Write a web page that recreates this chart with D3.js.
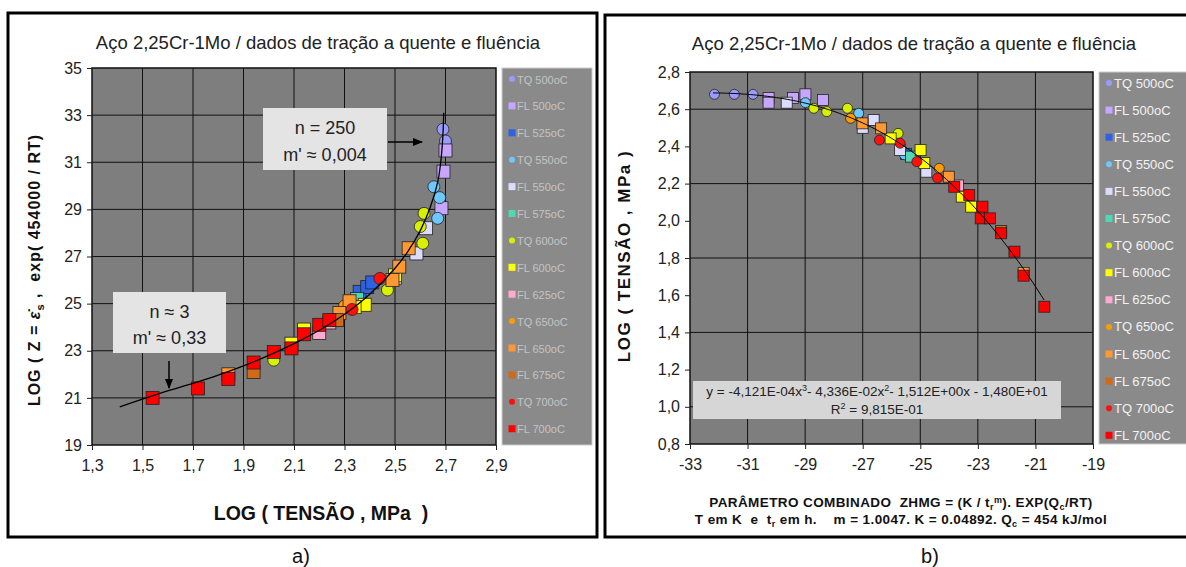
<!DOCTYPE html>
<html>
<head>
<meta charset='utf-8'>
<title>Aço 2,25Cr-1Mo</title>
<script src='https://cdn.jsdelivr.net/npm/d3@7/dist/d3.min.js'></script>
<style>
  body {margin:0; background:#fff;}
  svg text {font-family:'Liberation Sans', Arial, sans-serif; white-space:pre;}
  .tick text {font-size:16px; fill:#222;}
  .tick line {stroke:#222;}
  .domain {display:none;}
</style>
</head>
<body>
<svg id='chart' width='1186' height='567'></svg>
<script>
// series names, colours, shapes (shared by both panels)
var series = ['TQ 500oC','FL 500oC','FL 525oC','TQ 550oC','FL 550oC','FL 575oC','TQ 600oC',
              'FL 600oC','FL 625oC','TQ 650oC','FL 650oC','FL 675oC','TQ 700oC','FL 700oC'];
var colors = ['#9a9aff','#c6a6ff','#2f62e0','#6cc8ff','#dcdcff','#4fd8b4','#d8f000',
              '#ffff00','#ffaad0','#ff9c00','#ff9830','#d06a18','#ff1010','#ff0000'];
var shapes = ['c','s','s','c','s','s','c','s','s','c','s','s','c','s'];

// a) log(stress) vs log(Z), one array per series
var zData = [
  [[2.690,32.4],[2.700,31.9]],
  [[2.692,30.6],[2.684,29.05],[2.700,31.5]],
  [[2.36,25.5],[2.39,25.7],[2.41,25.9]],
  [[2.654,29.96],[2.669,28.62],[2.677,29.5]],
  [[2.623,28.2],[2.585,27.13],[2.50,26.1]],
  [[2.35,25.2]],
  [[2.615,28.83],[2.60,28.27],[2.61,27.56],[2.47,25.58],[2.02,22.6]],
  [[2.38,24.95],[2.34,24.85],[2.14,23.9],[2.09,23.3],[2.50,26.2]],
  [[2.20,23.75],[2.24,24.2]],
  [[2.30,24.9]],
  [[2.554,27.35],[2.517,26.57],[2.32,25.1],[2.28,24.6],[1.84,22.0],[2.49,26.0]],
  [[2.27,24.3],[1.94,22.1]],
  [[2.44,26.07],[2.33,24.75]],
  [[1.54,21.0],[1.72,21.4],[1.84,21.8],[1.94,22.5],[2.02,22.95],[2.09,23.1],[2.14,23.7],[2.20,24.1],[2.24,24.3]]
];
// fitted curve of panel a)
var zCurve = [[1.41,20.62],[1.50,20.95],[1.60,21.3],[1.70,21.62],[1.80,21.97],[1.90,22.36],[2.00,22.8],
              [2.10,23.3],[2.20,23.87],[2.30,24.55],[2.40,25.4],[2.50,26.5],[2.55,27.2],[2.60,28.1],
              [2.64,29.1],[2.67,30.2],[2.683,31.2],[2.690,32.2],[2.693,33.1]];

// b) ZHMG parameter vs log(stress)
var hData = [
  [[-32.15,2.68],[-31.46,2.68],[-30.81,2.68]],
  [[-30.27,2.66],[-29.42,2.66],[-28.99,2.68],[-28.38,2.65],[-30.27,2.635]],
  [[-25.5,2.36]],
  [[-28.99,2.635],[-27.14,2.578],[-25.55,2.355]],
  [[-29.64,2.635],[-27.0,2.50],[-26.62,2.542],[-24.79,2.264],[-25.7,2.38]],
  [[-25.32,2.345]],
  [[-28.7,2.605],[-28.25,2.587],[-27.53,2.605],[-25.77,2.47]],
  [[-26.03,2.443],[-24.99,2.38],[-24.86,2.31],[-23.56,2.13],[-23.23,2.076]],
  [[-23.69,2.19]],
  [[-27.42,2.551],[-24.34,2.282]],
  [[-27.01,2.524],[-26.36,2.497],[-24.01,2.237],[-21.41,1.72]],
  [[-22.19,1.945]],
  [[-26.42,2.434],[-25.7,2.417],[-25.12,2.318],[-24.4,2.23]],
  [[-23.82,2.183],[-23.3,2.139],[-22.84,2.076],[-22.9,2.013],[-22.58,2.013],[-22.19,1.933],
   [-21.73,1.834],[-21.41,1.705],[-20.69,1.538]]
];
// polynomial trendline shown in panel b): y = a x^3 + b x^2 + c x + d
var hCoef = [-4.121e-4, -4.336e-2, -1.512, -14.80];
var hFitRange = [-32.2, -20.7];

var zTicksX = [1.3,1.5,1.7,1.9,2.1,2.3,2.5,2.7,2.9], zTicksY = [19,21,23,25,27,29,31,33,35];
var hTicksX = [-33,-31,-29,-27,-25,-23,-21,-19], hTicksY = [0.8,1.0,1.2,1.4,1.6,1.8,2.0,2.2,2.4,2.6,2.8];
var zGridX = [1.5,1.7,1.9,2.1,2.3,2.5,2.7], zGridY = [21,23,25,27,29,31,33];
var hGridX = [-31,-29,-27,-25,-23,-21], hGridY = [1.0,1.4,1.8,2.2,2.6];

var title = 'Aço 2,25Cr-1Mo / dados de tração a quente e fluência';
var comma = function(f){ return function(d){ return d3.format(f)(d).replace('.',','); }; };

var svg = d3.select('#chart');

// frames
svg.append('rect').attr('x',8).attr('y',13).attr('width',589).attr('height',524)
   .attr('fill','#fff').attr('stroke','#000').attr('stroke-width',3);
svg.append('rect').attr('x',605).attr('y',15).attr('width',600).attr('height',522)
   .attr('fill','#fff').attr('stroke','#000').attr('stroke-width',3);

function panel(o){
  var g = svg.append('g');
  var x = d3.scaleLinear().domain(o.xd).range(o.xr), y = d3.scaleLinear().domain(o.yd).range(o.yr);
  g.append('rect').attr('x',o.xr[0]).attr('y',o.yr[1]).attr('width',o.xr[1]-o.xr[0])
   .attr('height',o.yr[0]-o.yr[1]).attr('fill','#7e7e7e').attr('stroke','#111').attr('stroke-width',1.5);
  g.selectAll('.gx').data(o.gx).enter().append('line')
   .attr('x1',d=>x(d)).attr('x2',d=>x(d)).attr('y1',o.yr[0]).attr('y2',o.yr[1]).attr('stroke','#111');
  g.selectAll('.gy').data(o.gy).enter().append('line')
   .attr('y1',d=>y(d)).attr('y2',d=>y(d)).attr('x1',o.xr[0]).attr('x2',o.xr[1]).attr('stroke','#111');
  g.append('g').attr('transform','translate(0,'+o.yr[0]+')')
   .call(d3.axisBottom(x).tickValues(o.tx).tickFormat(o.fx).tickSize(5).tickPadding(10));
  g.append('g').attr('transform','translate('+o.xr[0]+',0)')
   .call(d3.axisLeft(y).tickValues(o.ty).tickFormat(o.fy).tickSize(5).tickPadding(5));
  // legend
  var lg = g.append('g');
  lg.append('rect').attr('x',o.lx).attr('y',o.yr[1]).attr('width',o.lw).attr('height',o.yr[0]-o.yr[1])
    .attr('fill','#8a8a8a').attr('stroke','#ccc');
  series.forEach(function(s,i){
    var cy = o.ly + i*o.lstep, cx = o.lx+10;
    if (shapes[i]=='c') lg.append('circle').attr('cx',cx).attr('cy',cy).attr('r',3).attr('fill',colors[i]);
    else lg.append('rect').attr('x',cx-3.5).attr('y',cy-3.5).attr('width',7).attr('height',7).attr('fill',colors[i]);
    lg.append('text').attr('x',cx+5).attr('y',cy+4.5).attr('font-size',o.lfs).attr('fill',o.lcol).text(s);
  });
  return {g:g, x:x, y:y};
}

function marks(p, data, rc, sq){
  var clip = 'clip'+Math.round(p.x.range()[0]);
  p.g.append('clipPath').attr('id',clip).append('rect')
   .attr('x',p.x.range()[0]).attr('y',p.y.range()[1])
   .attr('width',p.x.range()[1]-p.x.range()[0]).attr('height',p.y.range()[0]-p.y.range()[1]);
  var m = p.g.append('g').attr('clip-path','url(#'+clip+')');
  data.forEach(function(pts,i){
    pts.forEach(function(d){
      if (shapes[i]=='c') m.append('circle').attr('cx',p.x(d[0])).attr('cy',p.y(d[1])).attr('r',rc)
        .attr('fill',colors[i]).attr('stroke','#222').attr('stroke-width',0.8);
      else m.append('rect').attr('x',p.x(d[0])-sq/2).attr('y',p.y(d[1])-sq/2).attr('width',sq).attr('height',sq)
        .attr('fill',colors[i]).attr('stroke','#222').attr('stroke-width',0.8);
    });
  });
  return m;
}

// ---- panel a)
var pa = panel({xd:[1.3,2.9], xr:[92,496], yd:[19,35], yr:[445,68], gx:zGridX, gy:zGridY,
                tx:zTicksX, ty:zTicksY, fx:comma('.1f'), fy:d3.format('d'),
                lx:502, lw:90, ly:79, lstep:26.9, lfs:11, lcol:'#c4c4c4'});
var ma = marks(pa, zData, 6, 13);
ma.append('path').datum(zCurve).attr('fill','none').attr('stroke','#000').attr('stroke-width',1.3)
  .attr('d', d3.line().curve(d3.curveCatmullRom).x(d=>pa.x(d[0])).y(d=>pa.y(d[1])));

svg.append('text').attr('x',318).attr('y',49).attr('text-anchor','middle').attr('font-size',18.5)
   .attr('fill','#222').text(title);
svg.append('text').attr('x',321).attr('y',520).attr('text-anchor','middle').attr('font-size',19.5)
   .attr('font-weight','bold').attr('fill','#111').text('LOG ( TENSÃO , MPa  )');
svg.append('text').attr('transform','translate(40,270) rotate(-90)').attr('text-anchor','middle')
   .attr('font-size',16).attr('font-weight','bold').attr('fill','#111').attr('letter-spacing',1)
   .html('LOG ( Z = <tspan font-style="italic">ε̇</tspan><tspan font-size="11" dy="4">s</tspan><tspan dy="-4"> ,  exp( 454000 / RT)</tspan>');

// annotation boxes
function note(x0,y0,w,h,l1,l2){
  svg.append('rect').attr('x',x0).attr('y',y0).attr('width',w).attr('height',h).attr('fill','#e4e4e4');
  svg.append('text').attr('x',x0+w/2).attr('y',y0+h*0.42).attr('text-anchor','middle')
     .attr('font-size',18).attr('fill','#222').text(l1);
  svg.append('text').attr('x',x0+w/2).attr('y',y0+h*0.85).attr('text-anchor','middle')
     .attr('font-size',18).attr('fill','#222').text(l2);
}
note(263,108,124,62,'n = 250',"m' ≈ 0,004");
note(113,292,113,61,'n ≈ 3',"m' ≈ 0,33");
svg.append('defs').append('marker').attr('id','ah').attr('viewBox','0 0 10 10').attr('refX',9).attr('refY',5)
   .attr('markerWidth',7).attr('markerHeight',7).attr('orient','auto')
   .append('path').attr('d','M0,1 L10,5 L0,9 Z').attr('fill','#000');
svg.append('line').attr('x1',388).attr('y1',142).attr('x2',422).attr('y2',142)
   .attr('stroke','#000').attr('stroke-width',1.5).attr('marker-end','url(#ah)');
svg.append('line').attr('x1',169).attr('y1',361).attr('x2',169).attr('y2',388)
   .attr('stroke','#000').attr('stroke-width',1.5).attr('marker-end','url(#ah)');
svg.append('text').attr('x',301).attr('y',563).attr('text-anchor','middle').attr('font-size',20)
   .attr('fill','#111').text('a)');

// ---- panel b)
var pb = panel({xd:[-33,-19], xr:[690,1093], yd:[0.8,2.8], yr:[444,72], gx:hGridX, gy:hGridY,
                tx:hTicksX, ty:hTicksY, fx:d=>String(d), fy:comma('.1f'),
                lx:1099, lw:95, ly:83, lstep:27.1, lfs:13, lcol:'#f2f2f2'});
var mb = marks(pb, hData, 5, 11);
var xs = d3.range(hFitRange[0], hFitRange[1]+0.01, 0.1);
mb.append('path').datum(xs).attr('fill','none').attr('stroke','#000').attr('stroke-width',1)
  .attr('d', d3.line().x(d=>pb.x(d))
  .y(d=>pb.y(((hCoef[0]*d + hCoef[1])*d + hCoef[2])*d + hCoef[3])));

svg.append('rect').attr('x',693).attr('y',381).attr('width',368).attr('height',38).attr('fill','#d6d6d6');
svg.append('text').attr('x',877).attr('y',396).attr('text-anchor','middle').attr('font-size',13.5)
   .attr('fill','#222').html('y = -4,121E-04x<tspan dy="-5" font-size="9">3</tspan><tspan dy="5">- 4,336E-02x</tspan><tspan dy="-5" font-size="9">2</tspan><tspan dy="5">- 1,512E+00x - 1,480E+01</tspan>');
svg.append('text').attr('x',877).attr('y',414).attr('text-anchor','middle').attr('font-size',13.5)
   .attr('fill','#222').html('R<tspan dy="-5" font-size="9">2</tspan><tspan dy="5"> = 9,815E-01</tspan>');

svg.append('text').attr('x',914).attr('y',50).attr('text-anchor','middle').attr('font-size',18.5)
   .attr('fill','#222').text(title);
svg.append('text').attr('transform','translate(630,256) rotate(-90)').attr('text-anchor','middle')
   .attr('font-size',17).attr('font-weight','bold').attr('fill','#111').attr('letter-spacing',1.5)
   .text('LOG ( TENSÃO , MPa )');
svg.append('text').attr('x',901).attr('y',507).attr('text-anchor','middle').attr('font-size',13.5)
   .attr('font-weight','bold').attr('fill','#111').attr('letter-spacing',0.4)
   .html('PARÂMETRO COMBINADO  ZHMG = (K / t<tspan font-size="9" dy="3">r</tspan><tspan font-size="9" dy="-7">m</tspan><tspan dy="4">). EXP(Q</tspan><tspan font-size="9" dy="3">c</tspan><tspan dy="-3">/RT)</tspan>');
svg.append('text').attr('x',901).attr('y',524).attr('text-anchor','middle').attr('font-size',13.5)
   .attr('font-weight','bold').attr('fill','#111').attr('letter-spacing',0.4)
   .html('T em K  e  t<tspan font-size="9" dy="3">r</tspan><tspan dy="-3"> em h.    m = 1.0047. K = 0.04892. Q</tspan><tspan font-size="9" dy="3">c</tspan><tspan dy="-3"> = 454 kJ/mol</tspan>');
svg.append('text').attr('x',930).attr('y',563).attr('text-anchor','middle').attr('font-size',20)
   .attr('fill','#111').text('b)');
</script>
</body>
</html>
